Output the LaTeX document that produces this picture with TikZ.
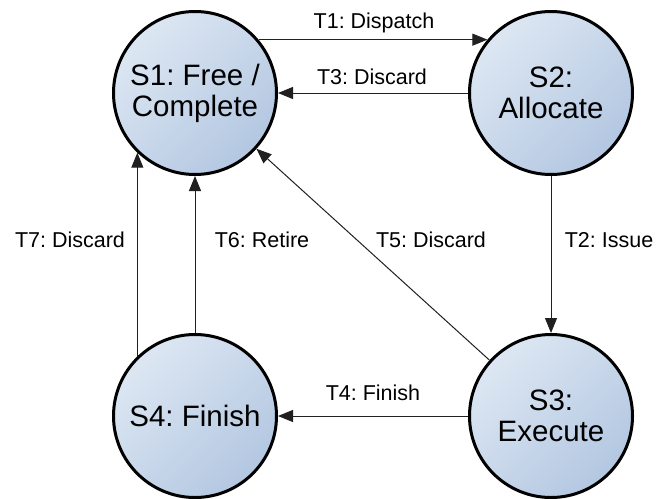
\documentclass[tikz,border=0pt]{standalone}
\usepackage{fontspec}
\setmainfont{Liberation Sans}
\usetikzlibrary{arrows.meta}
\frenchspacing
\definecolor{stlight}{HTML}{DDE7F3}
\definecolor{stdark}{HTML}{B3C7E1}
\definecolor{edgecol}{HTML}{202020}
\tikzset{
  state/.style={circle, draw=black, line width=3pt, minimum size=163pt, inner sep=0pt,
    top color=stlight, bottom color=stdark, shading angle=45,
    align=center, font=\fontsize{29.5}{31}\selectfont},
  trans/.style={draw=edgecol, line width=1pt, -{Triangle[length=15pt,width=12pt]}},
  lbl/.style={font=\fontsize{21.5}{25}\selectfont, inner sep=0pt}
}
\begin{document}
\begin{tikzpicture}[x=1pt,y=-1pt]
\useasboundingbox (0,0) rectangle (658,498);
\node[state] (S1) at (195,93) {S1: Free /\\Complete};
\node[state] (S2) at (551,93) {S2:\\Allocate};
\node[state] (S3) at (551,416) {S3:\\Execute};
\node[state] (S4) at (195,416) {S4: Finish};
\draw[trans] (S1.40) -- (S2.140);
\draw[trans] (S2.180) -- (S1.0);
\draw[trans] (S2.south) -- (S3.north);
\draw[trans] (S3.west) -- (S4.east);
\draw[trans] (S3) -- (S1);
\draw[trans] (S4.north) -- (S1.south);
\draw[trans] (S4.134) -- (S1.226);
\node[lbl] (L1) at (374,23) {T1: Dispatch};
\node[lbl] (L3) at (372,77) {T3: Discard};
\node[lbl] (L2) at (609,240) {T2: Issue};
\node[lbl] (L4) at (373,393) {T4: Finish};
\node[lbl] (L5) at (431,240) {T5: Discard};
\node[lbl] (L6) at (262,240) {T6: Retire};
\node[lbl] (L7) at (70,240) {T7: Discard};
\end{tikzpicture}
\end{document}
